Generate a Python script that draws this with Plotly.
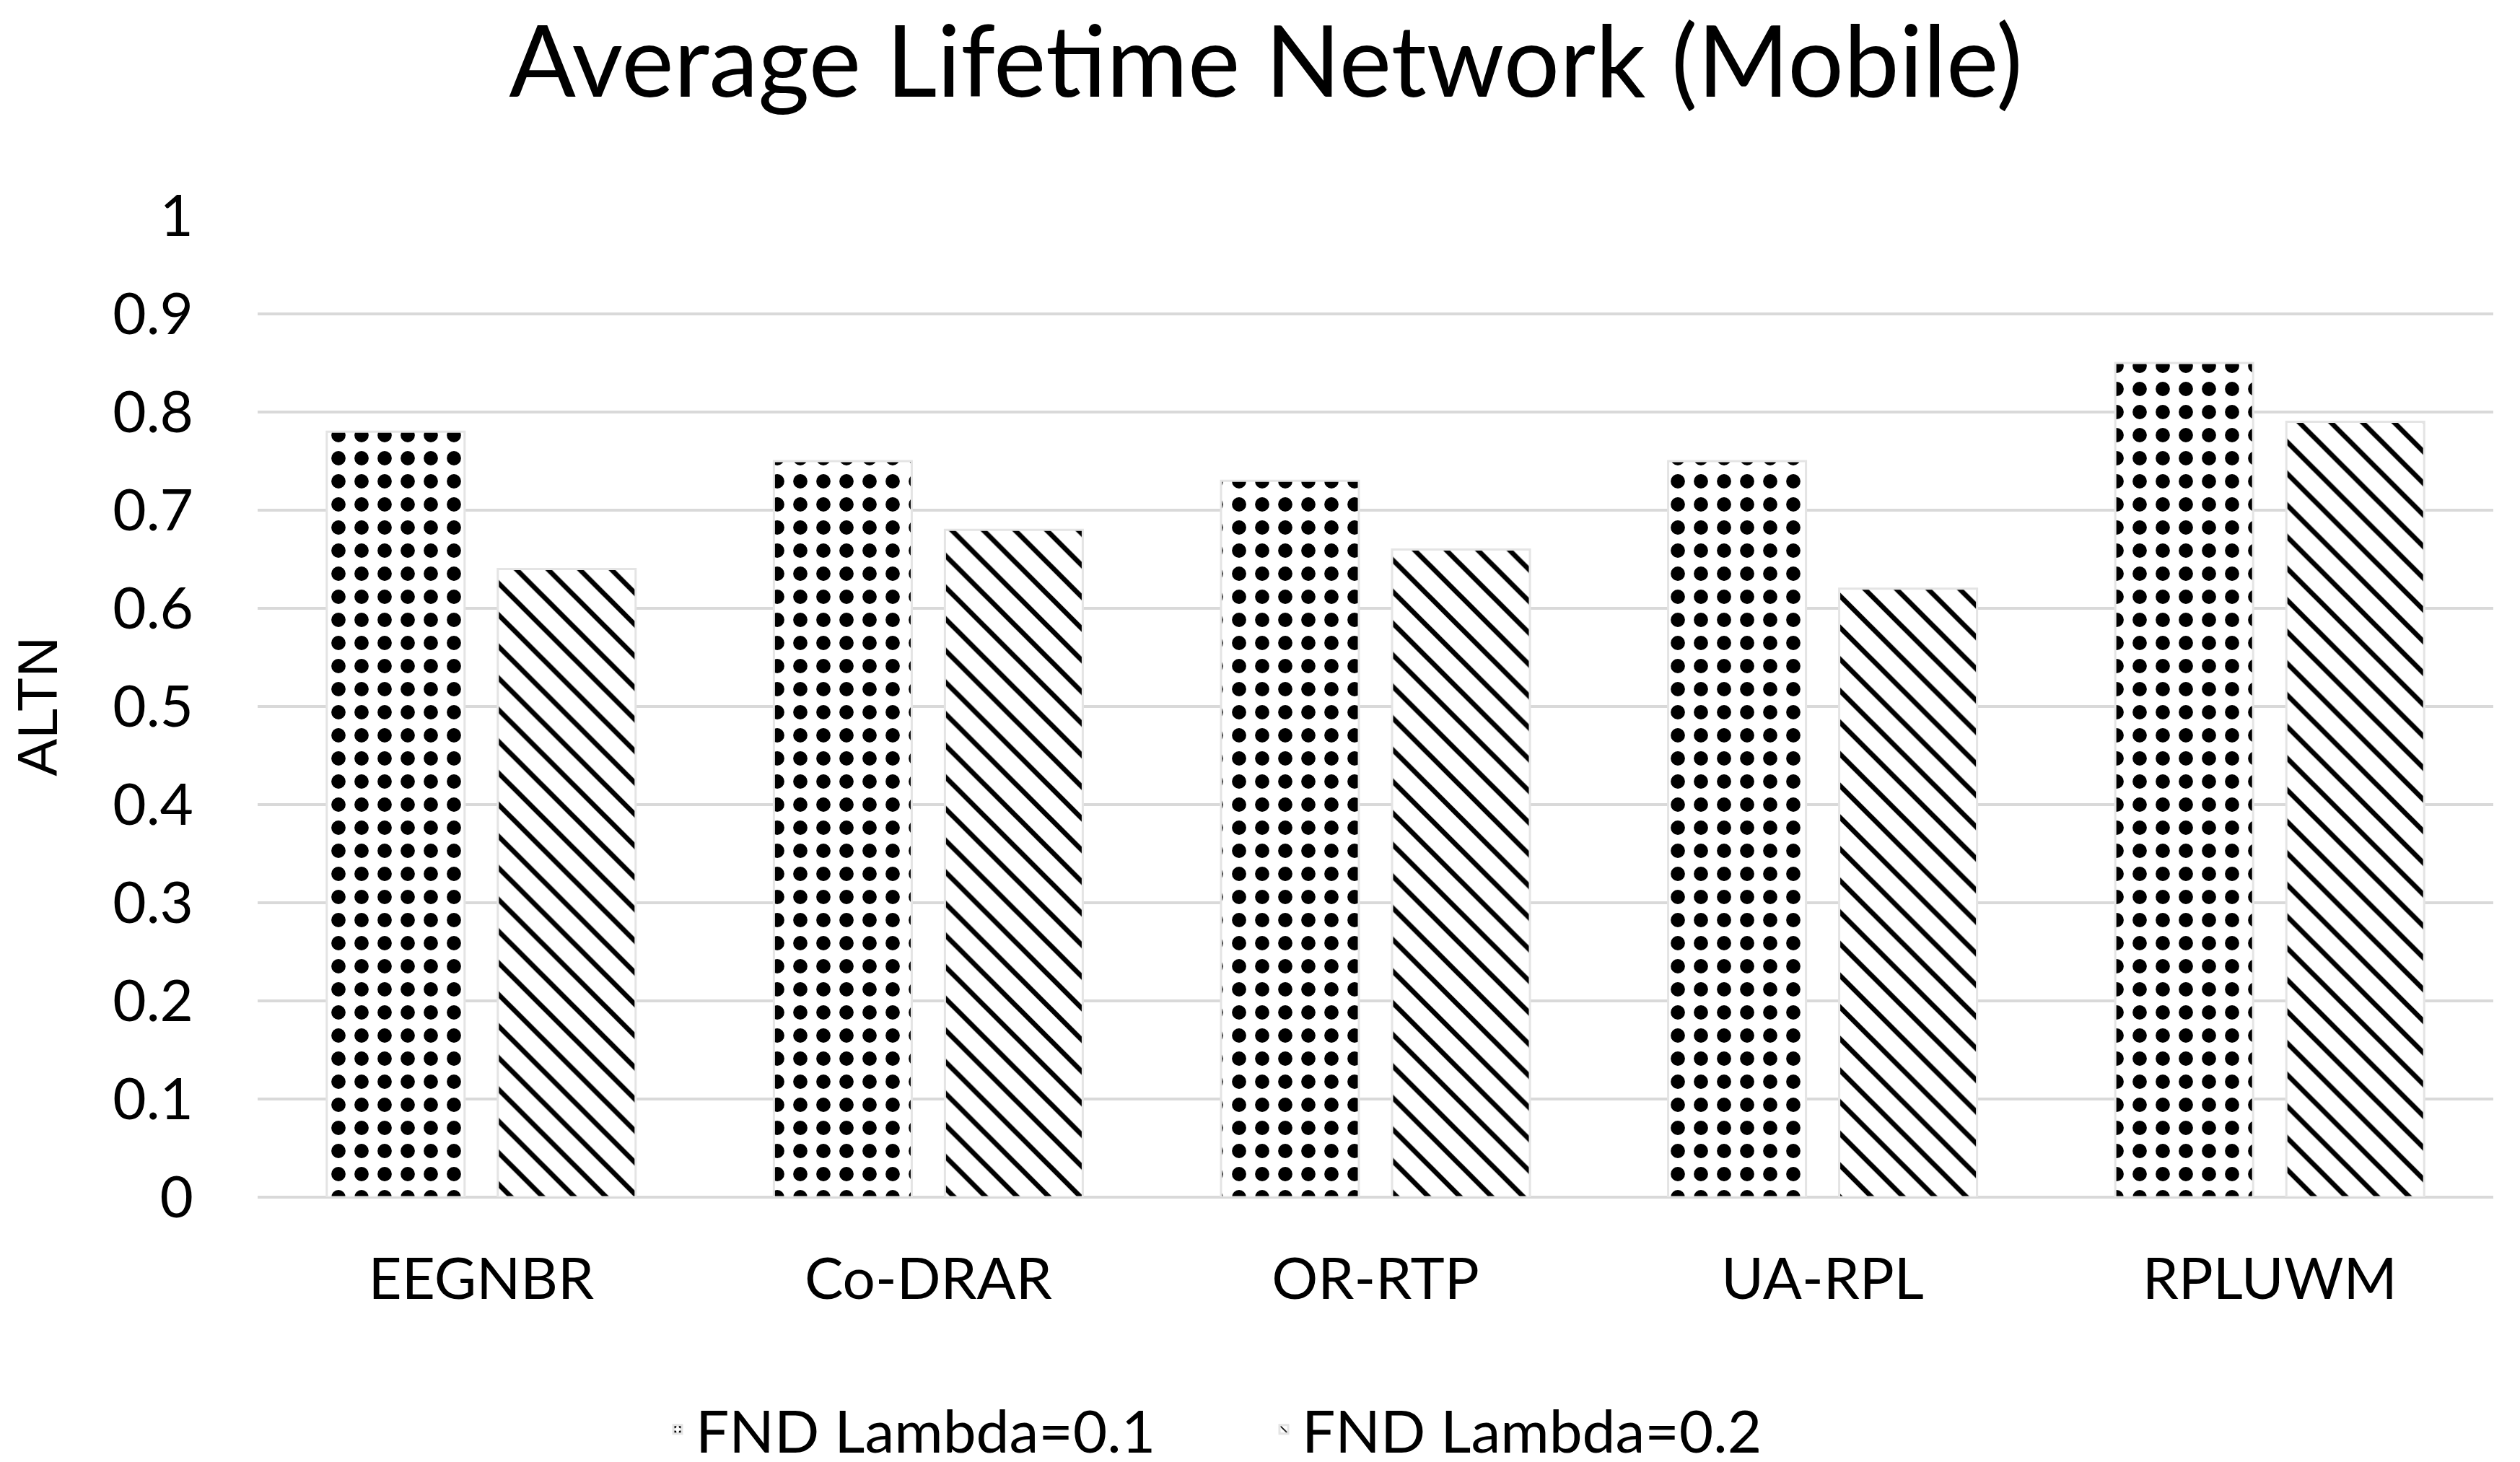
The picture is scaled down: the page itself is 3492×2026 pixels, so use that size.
import plotly.graph_objects as go

categories = ["EEGNBR", "Co-DRAR", "OR-RTP", "UA-RPL", "RPLUWM"]
lambda_01 = [0.78, 0.75, 0.73, 0.75, 0.85]
lambda_02 = [0.64, 0.68, 0.66, 0.62, 0.79]
series_names = ["FND Lambda=0.1", "FND Lambda=0.2"]
y_ticks = [0, 0.1, 0.2, 0.3, 0.4, 0.5, 0.6, 0.7, 0.8, 0.9, 1]
y_tick_text = ["0", "0.1", "0.2", "0.3", "0.4", "0.5", "0.6", "0.7", "0.8", "0.9", "1"]

body_font = "Lato"

fig = go.Figure()

fig.add_trace(go.Bar(
    x=categories,
    y=lambda_01,
    name=series_names[0],
    marker=dict(
        color="white",
        line=dict(color="#e4e4e4", width=3),
        pattern=dict(shape=".", fgcolor="black", fgopacity=1, bgcolor="white",
                     size=32, solidity=0.3, fillmode="replace"),
    ),
))

fig.add_trace(go.Bar(
    x=categories,
    y=lambda_02,
    name=series_names[1],
    marker=dict(
        color="white",
        line=dict(color="#e4e4e4", width=3),
        pattern=dict(shape="\\", fgcolor="black", fgopacity=1, bgcolor="white",
                     size=31, solidity=0.22, fillmode="replace"),
    ),
))

fig.update_layout(
    width=3492,
    height=2026,
    paper_bgcolor="white",
    plot_bgcolor="white",
    barmode="group",
    bargap=0.235,
    bargroupgap=0.194,
    margin=dict(l=349, r=45, t=291, b=375),
    title=dict(
        text="Average Lifetime Network (Mobile)",
        x=0.5, xref="container", xanchor="center",
        y=1 - 78 / 2026, yref="container", yanchor="middle",
        font=dict(family=body_font, size=137, color="black"),
    ),
    xaxis=dict(
        showgrid=False,
        showline=False,
        zeroline=False,
        ticks="",
        ticklabelstandoff=60,
        tickfont=dict(family=body_font, size=80, color="black"),
    ),
    yaxis=dict(
        range=[0, 1],
        tickvals=y_ticks,
        ticktext=y_tick_text,
        showgrid=True,
        gridcolor="#d9d9d9",
        gridwidth=4,
        zeroline=True,
        zerolinecolor="#d9d9d9",
        zerolinewidth=4,
        showline=False,
        ticks="",
        ticklabelstandoff=88,
        tickfont=dict(family=body_font, size=80, color="black"),
        title=dict(
            text="ALTN",
            standoff=56,
            font=dict(family="Liberation Sans", size=78, color="black"),
        ),
    ),
    legend=dict(
        orientation="h",
        x=0.5, xref="container", xanchor="center",
        y=1 - 1973 / 2026, yref="container", yanchor="middle",
        font=dict(family=body_font, size=82, color="black"),
        itemwidth=40,
        entrywidth=785,
        entrywidthmode="pixels",
        tracegroupgap=0,
    ),
)

fig.write_html("out.html")
